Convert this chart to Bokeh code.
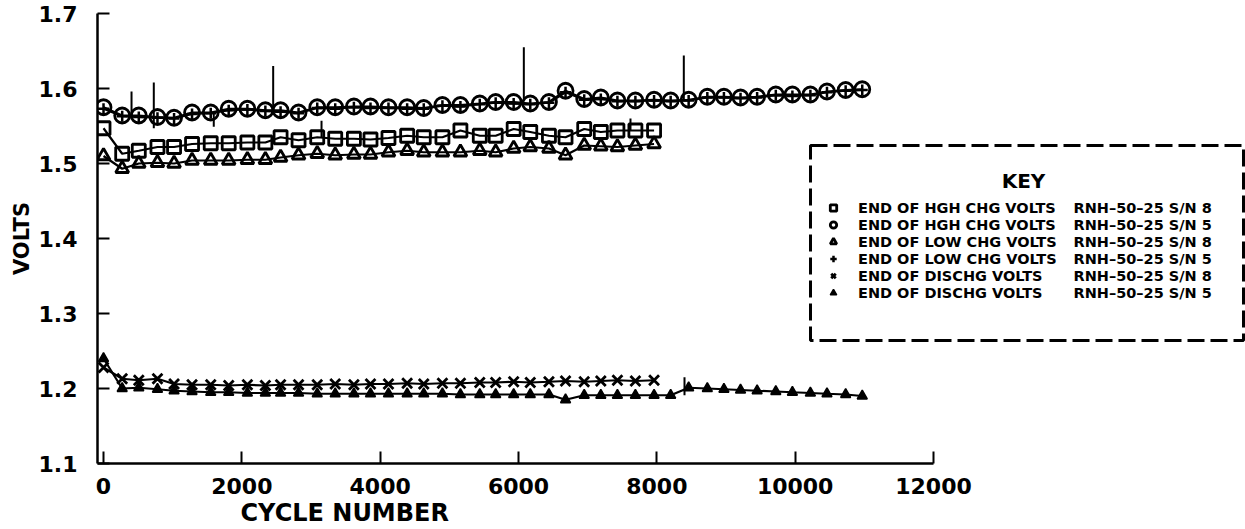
from bokeh.plotting import figure
from bokeh.models import (Range1d, FixedTicker, Legend, LegendItem, Label, BoxAnnotation,
                          ColumnDataSource, PrintfTickFormatter, Title)
from bokeh.embed import file_html
from bokeh.resources import INLINE

# ---------------- data ----------------
x_sn5 = [0, 270, 510, 780, 1020, 1280, 1550, 1810, 2080, 2340, 2560, 2820, 3090, 3350, 3620,
         3860, 4120, 4390, 4630, 4900, 5160, 5440, 5670, 5930, 6170, 6440, 6680, 6950, 7190,
         7430, 7690, 7960, 8200, 8460, 8730, 8970, 9210, 9450, 9720, 9960, 10220, 10460,
         10730, 10970]
x_sn8 = [0, 270, 510, 780, 1020, 1280, 1550, 1810, 2080, 2340, 2560, 2820, 3090, 3350, 3620,
         3860, 4120, 4390, 4630, 4900, 5160, 5440, 5670, 5930, 6170, 6440, 6680, 6950, 7190,
         7430, 7690, 7960]

hgh_sn8 = [1.547, 1.513, 1.517, 1.522, 1.522, 1.526, 1.527, 1.527, 1.528, 1.528,
           1.535, 1.531, 1.535, 1.533, 1.533, 1.532, 1.534, 1.537, 1.535, 1.535,
           1.544, 1.537, 1.537, 1.546, 1.542, 1.537, 1.535, 1.546, 1.542, 1.544,
           1.544, 1.544]
hgh_sn5 = [1.575, 1.564, 1.564, 1.562, 1.561, 1.568, 1.568, 1.573, 1.573, 1.571,
           1.571, 1.568, 1.575, 1.575, 1.576, 1.576, 1.575, 1.575, 1.574, 1.578,
           1.578, 1.580, 1.582, 1.582, 1.580, 1.582, 1.597, 1.586, 1.588, 1.584,
           1.584, 1.585, 1.584, 1.585, 1.589, 1.589, 1.588, 1.589, 1.592, 1.592,
           1.592, 1.596, 1.598, 1.599]
low_sn8 = [1.510, 1.493, 1.500, 1.501, 1.500, 1.504, 1.504, 1.504, 1.505, 1.505,
           1.508, 1.511, 1.513, 1.511, 1.512, 1.512, 1.515, 1.517, 1.515, 1.515,
           1.515, 1.517, 1.515, 1.520, 1.522, 1.520, 1.511, 1.524, 1.523, 1.522,
           1.524, 1.526]
low_sn5 = [1.573, 1.563, 1.562, 1.561, 1.560, 1.566, 1.567, 1.571, 1.572, 1.570,
           1.569, 1.567, 1.574, 1.573, 1.575, 1.574, 1.574, 1.573, 1.573, 1.577,
           1.576, 1.579, 1.581, 1.580, 1.579, 1.581, 1.595, 1.585, 1.586, 1.583,
           1.583, 1.584, 1.583, 1.584, 1.588, 1.588, 1.587, 1.588, 1.591, 1.590,
           1.591, 1.595, 1.597, 1.598]
dis_sn8 = [1.228, 1.213, 1.211, 1.213, 1.206, 1.205, 1.205, 1.204, 1.205, 1.204,
           1.205, 1.205, 1.205, 1.206, 1.205, 1.206, 1.206, 1.207, 1.206, 1.207,
           1.207, 1.208, 1.208, 1.209, 1.208, 1.209, 1.210, 1.209, 1.210, 1.211,
           1.210, 1.211]
dis_sn5 = [1.240, 1.200, 1.201, 1.199, 1.197, 1.196, 1.195, 1.195, 1.194, 1.194,
           1.194, 1.194, 1.193, 1.193, 1.193, 1.193, 1.193, 1.193, 1.193, 1.193,
           1.192, 1.192, 1.192, 1.192, 1.192, 1.192, 1.185, 1.191, 1.191, 1.191,
           1.191, 1.191, 1.191, 1.201, 1.200, 1.199, 1.198, 1.197, 1.196, 1.195,
           1.194, 1.193, 1.192, 1.190]

spike_x = [405, 727, 1594, 2453, 3152, 6077, 7619, 8390, 8400]
spike_lo = [1.564, 1.547, 1.549, 1.571, 1.535, 1.584, 1.544, 1.586, 1.191]
spike_hi = [1.596, 1.608, 1.568, 1.630, 1.557, 1.655, 1.560, 1.644, 1.215]

x_ticks = [0, 2000, 4000, 6000, 8000, 10000, 12000]
y_ticks = [1.1, 1.2, 1.3, 1.4, 1.5, 1.6, 1.7]

key_desc = ["END OF HGH CHG VOLTS", "END OF HGH CHG VOLTS", "END OF LOW CHG VOLTS",
            "END OF LOW CHG VOLTS", "END OF DISCHG VOLTS", "END OF DISCHG VOLTS"]
key_unit = ["RNH\u201350\u201325 S/N 8", "RNH\u201350\u201325 S/N 5", "RNH\u201350\u201325 S/N 8",
            "RNH\u201350\u201325 S/N 5", "RNH\u201350\u201325 S/N 8", "RNH\u201350\u201325 S/N 5"]

# ---------------- figure ----------------
FONT = "DejaVu Sans"
INK = "black"

p = figure(width=1245, height=529, output_backend="svg", toolbar_location=None,
           x_range=Range1d(-87, 16511), y_range=Range1d(1.1, 1.7),
           min_border_left=97, min_border_right=0, min_border_top=13, min_border_bottom=66)
p.outline_line_color = None
p.background_fill_color = "white"
p.border_fill_color = "white"
p.xgrid.visible = False
p.ygrid.visible = False

for ax in (p.xaxis[0], p.yaxis[0]):
    ax.axis_line_width = 2.5
    ax.axis_line_color = INK
    ax.major_tick_line_width = 2
    ax.major_tick_line_color = INK
    ax.major_tick_in = 12
    ax.major_tick_out = 0
    ax.minor_tick_line_color = None
    ax.major_label_text_font = FONT
    ax.major_label_text_font_style = "bold"
    ax.major_label_text_font_size = "22px"
    ax.major_label_text_color = INK

p.xaxis.ticker = FixedTicker(ticks=x_ticks)
p.xaxis.formatter = PrintfTickFormatter(format="%d")
p.xaxis.bounds = (-87, 12000)
p.xaxis.major_label_standoff = 14

p.yaxis.ticker = FixedTicker(ticks=y_ticks)
p.yaxis.formatter = PrintfTickFormatter(format="%.1f")
p.yaxis.bounds = (1.1, 1.7)
p.yaxis.major_label_standoff = 20
p.yaxis.axis_label = "VOLTS"
p.yaxis.axis_label_standoff = 2
p.yaxis.axis_label_text_font = FONT
p.yaxis.axis_label_text_font_style = "bold"
p.yaxis.axis_label_text_font_size = "21px"
p.yaxis.axis_label_text_color = INK

# x-axis caption, set left of centre as in the reference
p.add_layout(Title(text="CYCLE NUMBER", align="left", offset=143, standoff=0,
                   text_font=FONT, text_font_style="bold", text_font_size="24px",
                   text_color=INK), "below")

src8 = ColumnDataSource(dict(x=x_sn8, hgh=hgh_sn8, low=low_sn8, dis=dis_sn8))
src5 = ColumnDataSource(dict(x=x_sn5, hgh=hgh_sn5, low=low_sn5, dis=dis_sn5))
spikes = ColumnDataSource(dict(x=spike_x, lo=spike_lo, hi=spike_hi))

for src, col in [(src8, "hgh"), (src5, "hgh"), (src8, "low"), (src5, "low"),
                 (src8, "dis"), (src5, "dis")]:
    p.line("x", col, source=src, line_color=INK, line_width=2.2)

p.segment(x0="x", y0="lo", x1="x", y1="hi", source=spikes, line_color=INK, line_width=2)

r_sq = p.scatter("x", "hgh", source=src8, marker="square", size=13,
                 line_color=INK, line_width=2.8, fill_color=None)
r_ci = p.scatter("x", "hgh", source=src5, marker="circle", size=15,
                 line_color=INK, line_width=2.8, fill_color=None)
r_tr = p.scatter("x", "low", source=src8, marker="triangle", size=13,
                 line_color=INK, line_width=2.8, fill_color=None)
r_cr = p.scatter("x", "low", source=src5, marker="cross", size=11,
                 line_color=INK, line_width=2.5, fill_color=None)
r_xx = p.scatter("x", "dis", source=src8, marker="x", size=14,
                 line_color=INK, line_width=2.8, fill_color=None)
r_tf = p.scatter("x", "dis", source=src5, marker="triangle", size=10,
                 line_color=INK, line_width=1.5, fill_color=INK)

# ---------------- key ----------------
box = BoxAnnotation(left=713, right=1146, bottom=123, top=318,
                    left_units="screen", right_units="screen",
                    top_units="screen", bottom_units="screen",
                    fill_color=None, line_color=INK, line_alpha=1.0,
                    line_width=3, line_dash="17 6")
p.add_layout(box)

p.add_layout(Label(x=926, y=283, x_units="screen", y_units="screen", text="KEY",
                   text_align="center", text_baseline="middle", text_font=FONT,
                   text_font_style="bold", text_font_size="20px", text_color=INK))

renderers = [r_sq, r_ci, r_tr, r_cr, r_xx, r_tf]
legend = Legend(items=[LegendItem(label=t, renderers=[r]) for t, r in zip(key_desc, renderers)],
                location=(728, 162), orientation="vertical", padding=0, margin=0, spacing=0,
                glyph_width=16, glyph_height=17, label_height=17, label_standoff=17,
                label_text_font=FONT, label_text_font_style="bold",
                label_text_font_size="14.5px", label_text_color=INK,
                border_line_alpha=0, background_fill_alpha=0)
p.add_layout(legend)

for k, t in enumerate(key_unit):
    p.add_layout(Label(x=976, y=255.5 - 17 * k, x_units="screen", y_units="screen", text=t,
                       text_align="left", text_baseline="middle", text_font=FONT,
                       text_font_style="bold", text_font_size="14.5px", text_color=INK))

open("out.html", "w").write(file_html(p, INLINE))
